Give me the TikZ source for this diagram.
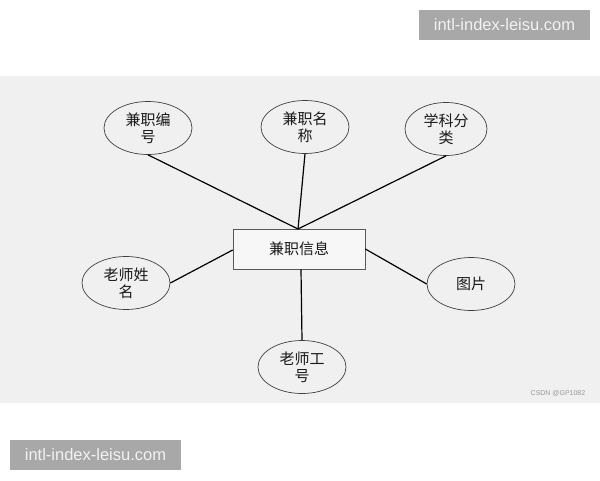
\documentclass[tikz,border=0pt]{standalone}
\usepackage{fontspec}
\setmainfont{Liberation Sans}
\newfontfamily\cjk{Noto Sans CJK SC}
\usetikzlibrary{shapes.geometric}
\begin{document}
\begin{tikzpicture}[x=1pt,y=-1pt,
  attr/.style={ellipse,draw=black!75,line width=0.7pt,minimum width=88pt,minimum height=53pt,inner sep=0pt,align=center,font=\cjk\fontsize{15}{17}\selectfont,text=black!90},
  ent/.style={rectangle,draw=black!65,line width=0.7pt,fill=black!3,minimum width=132pt,minimum height=40pt,inner sep=0pt,font=\cjk\fontsize{15}{17}\selectfont,text=black!90},
  link/.style={draw=black,line width=1.2pt},
  wm/.style={fill=black!34,text=black!5,font=\fontsize{16.5}{18}\selectfont,minimum width=171pt,minimum height=30pt,inner sep=0pt}]
\useasboundingbox (0,0) rectangle (600,480);
\fill[white] (0,0) rectangle (600,480);
\fill[black!6] (0,76) rectangle (600,403);
\node[wm] (wmt) at (504.5,25) {intl-index-leisu.com};
\node[wm] (wmb) at (95.5,455) {intl-index-leisu.com};
\node[font=\fontsize{7}{8}\selectfont,text=black!40] (csdn) at (558,393) {CSDN @GP1082};
\node[ent] (c) at (299,249) {兼职信息};
\node[attr] (a1) at (148,128) {兼职编\\号};
\node[attr] (a2) at (305,127) {兼职名\\称};
\node[attr,minimum width=82pt] (a3) at (446,129) {学科分\\类};
\node[attr] (a4) at (126,283) {老师姓\\名};
\node[attr] (a5) at (302,367) {老师工\\号};
\node[attr] (a6) at (471,284) {图片};
\coordinate (top) at (298,229);
\draw[link] (a1.south) -- (top);
\draw[link] (a2.south) -- (top);
\draw[link] (a3.south) -- (top);
\draw[link] (a4.east) -- (c.west |- 0,250);
\draw[link] (a6.west) -- (c.east |- 0,249);
\draw[link] (a5.north) -- (c.south -| 301,0);
\end{tikzpicture}
\end{document}
